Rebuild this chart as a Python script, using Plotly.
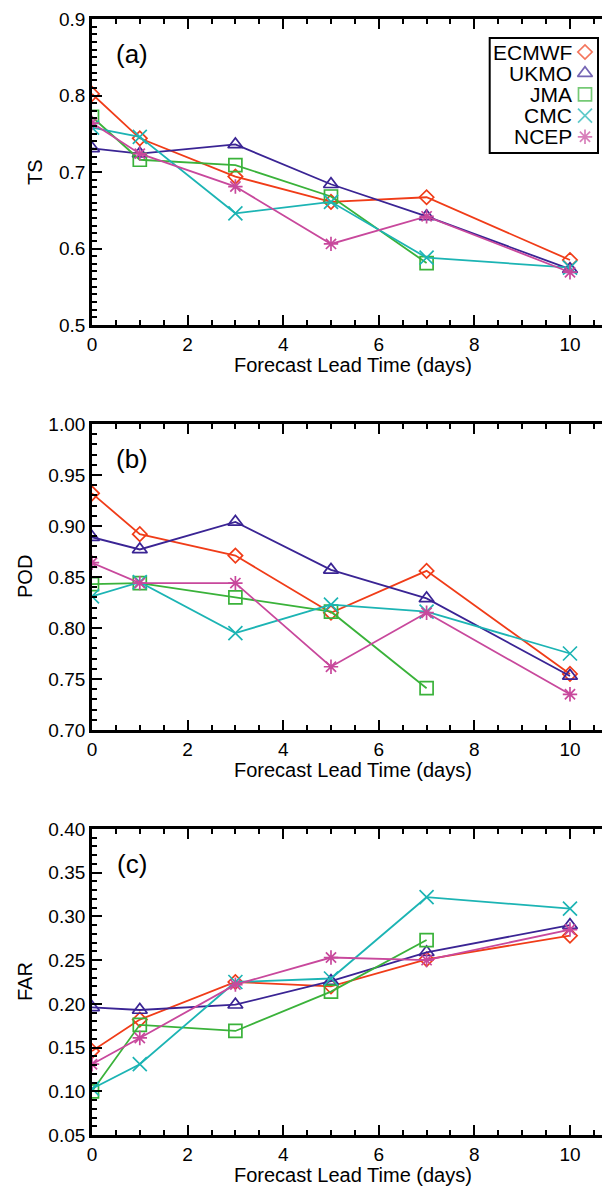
import plotly.graph_objects as go

# ---------------- data ----------------
days = [0, 1, 3, 5, 7, 10]
models = ["ECMWF", "UKMO", "JMA", "CMC", "NCEP"]

ts_ecmwf = [0.802, 0.744, 0.694, 0.661, 0.667, 0.585]
ts_ukmo = [0.731, 0.724, 0.736, 0.684, 0.642, 0.573]
ts_jma = [0.772, 0.716, 0.709, 0.668, 0.581]
ts_cmc = [0.758, 0.746, 0.646, 0.661, 0.588, 0.575]
ts_ncep = [0.764, 0.724, 0.681, 0.606, 0.642, 0.569]

pod_ecmwf = [0.932, 0.892, 0.871, 0.815, 0.856, 0.755]
pod_ukmo = [0.889, 0.877, 0.904, 0.857, 0.829, 0.753]
pod_jma = [0.843, 0.844, 0.830, 0.816, 0.741]
pod_cmc = [0.831, 0.845, 0.795, 0.823, 0.816, 0.775]
pod_ncep = [0.864, 0.844, 0.844, 0.762, 0.815, 0.735]

far_ecmwf = [0.146, 0.182, 0.225, 0.220, 0.251, 0.278]
far_ukmo = [0.196, 0.193, 0.199, 0.226, 0.259, 0.290]
far_jma = [0.100, 0.176, 0.169, 0.214, 0.273]
far_cmc = [0.103, 0.131, 0.225, 0.229, 0.322, 0.309]
far_ncep = [0.131, 0.161, 0.222, 0.253, 0.250, 0.285]

panel_titles = ["TS", "POD", "FAR"]
panel_letters = ["(a)", "(b)", "(c)"]
y_ranges = [[0.5, 0.9], [0.70, 1.00], [0.05, 0.40]]
y_dticks = [0.1, 0.05, 0.05]
y_formats = [".1f", ".2f", ".2f"]
x_label = "Forecast Lead Time (days)"

# ---------------- style ----------------
colors = ["#F03C18", "#3A2494", "#3AB23A", "#1CB4B4", "#C8489C"]
symbols = ["diamond-open", "triangle-up-open", "square-open", "x-thin-open", "asterisk-open"]
msizes = [11, 13, 13, 14, 12]
FONT = "Liberation Sans, Arial, Helvetica, sans-serif"

W, H = 610, 1189
ML, MR, MT, MB = 84, 5, 11, 50
PW = W - ML - MR
PH = H - MT - MB
panels_px = [(11, 317), (416, 722), (821, 1127)]
ytitle_px_x = [27, 17, 17]


def px_to_paper_x(px):
    return (px - ML) / PW


def px_to_paper_y(py):
    return (H - MB - py) / PH


def ydom(top, bot):
    return [px_to_paper_y(bot), px_to_paper_y(top)]


series = [
    [ts_ecmwf, ts_ukmo, ts_jma, ts_cmc, ts_ncep],
    [pod_ecmwf, pod_ukmo, pod_jma, pod_cmc, pod_ncep],
    [far_ecmwf, far_ukmo, far_jma, far_cmc, far_ncep],
]

fig = go.Figure()

for p in range(3):
    xa = "x" if p == 0 else f"x{p+1}"
    ya = "y" if p == 0 else f"y{p+1}"
    for m in range(5):
        vals = series[p][m]
        fig.add_trace(go.Scatter(
            x=days[:len(vals)], y=vals, xaxis=xa, yaxis=ya,
            mode="lines+markers", name=models[m], showlegend=False,
            line=dict(color=colors[m], width=1.8),
            marker=dict(symbol=symbols[m], size=msizes[m], color=colors[m],
                        line=dict(width=1.7, color=colors[m])),
        ))

common = dict(showline=True, linewidth=2.8, linecolor="black", mirror="ticks",
              ticks="inside", tickwidth=2.4, tickcolor="black",
              showgrid=False, zeroline=False,
              tickfont=dict(family=FONT, size=19, color="black"),
              automargin=False)

layout = dict(
    width=W, height=H,
    margin=dict(l=ML, r=MR, t=MT, b=MB, pad=0),
    paper_bgcolor="white", plot_bgcolor="rgba(0,0,0,0)",
    font=dict(family=FONT, color="black", size=19),
    showlegend=False,
)

for p in range(3):
    sx = "xaxis" if p == 0 else f"xaxis{p+1}"
    sy = "yaxis" if p == 0 else f"yaxis{p+1}"
    anc_x = "y" if p == 0 else f"y{p+1}"
    anc_y = "x" if p == 0 else f"x{p+1}"
    top, bot = panels_px[p]
    layout[sx] = dict(common, domain=[0, 1], anchor=anc_x, range=[0, 10.9],
                      tick0=0, dtick=2, ticklen=10,
                      minor=dict(ticks="inside", dtick=0.5, tick0=0, ticklen=5,
                                 tickwidth=2, tickcolor="black", showgrid=False))
    layout[sy] = dict(common, domain=ydom(top, bot), anchor=anc_y, range=y_ranges[p],
                      tick0=0, dtick=y_dticks[p], tickformat=y_formats[p], ticklen=10,
                      minor=dict(ticks="inside", dtick=0.01, tick0=0, ticklen=5,
                                 tickwidth=2, tickcolor="black", showgrid=False))

# overlay pixel axis for the custom legend markers
layout["xaxis4"] = dict(domain=[0, 1], range=[ML, W - MR], visible=False, anchor="y4", fixedrange=True)
layout["yaxis4"] = dict(domain=[0, 1], range=[H - MB, MT], visible=False, anchor="x4", fixedrange=True)
fig.update_layout(**layout)

# legend: text right-aligned, symbol on the right
leg_rows = [44 + i * 21.2 for i in range(len(models))]
leg_sym_x = 577
leg_txt_x = 566
fig.add_trace(go.Scatter(
    x=[leg_sym_x] * len(models), y=leg_rows, xaxis="x4", yaxis="y4",
    mode="markers", showlegend=False, hoverinfo="skip",
    marker=dict(symbol=symbols, size=msizes, color=colors,
                line=dict(width=1.7, color=colors)),
))
annotations = []
for i, name in enumerate(models):
    annotations.append(dict(
        x=px_to_paper_x(leg_txt_x), y=px_to_paper_y(leg_rows[i]), xref="paper", yref="paper",
        text=name, showarrow=False, xanchor="right", yanchor="middle",
        font=dict(family=FONT, size=21, color="black")))

shapes = [dict(type="rect", xref="paper", yref="paper",
               x0=px_to_paper_x(481.7), x1=px_to_paper_x(590),
               y0=px_to_paper_y(145), y1=px_to_paper_y(30),
               line=dict(color="black", width=2), fillcolor="rgba(0,0,0,0)")]

xmid = (ML + W - MR) / 2
for p in range(3):
    top, bot = panels_px[p]
    # panel letter
    annotations.append(dict(
        x=px_to_paper_x(124), y=px_to_paper_y(top + 35), xref="paper", yref="paper",
        text=panel_letters[p], showarrow=False, xanchor="center", yanchor="middle",
        font=dict(family=FONT, size=26, color="black")))
    # x title
    annotations.append(dict(
        x=px_to_paper_x(xmid), y=px_to_paper_y(bot + 40), xref="paper", yref="paper",
        text=x_label, showarrow=False, xanchor="center", yanchor="middle",
        font=dict(family=FONT, size=20, color="black")))
    # y title
    annotations.append(dict(
        x=px_to_paper_x(ytitle_px_x[p]), y=px_to_paper_y((top + bot) / 2),
        xref="paper", yref="paper",
        text=panel_titles[p], showarrow=False, textangle=-90,
        xanchor="center", yanchor="middle",
        font=dict(family=FONT, size=20, color="black")))

fig.update_layout(annotations=annotations, shapes=shapes)

fig.write_html("out.html")
